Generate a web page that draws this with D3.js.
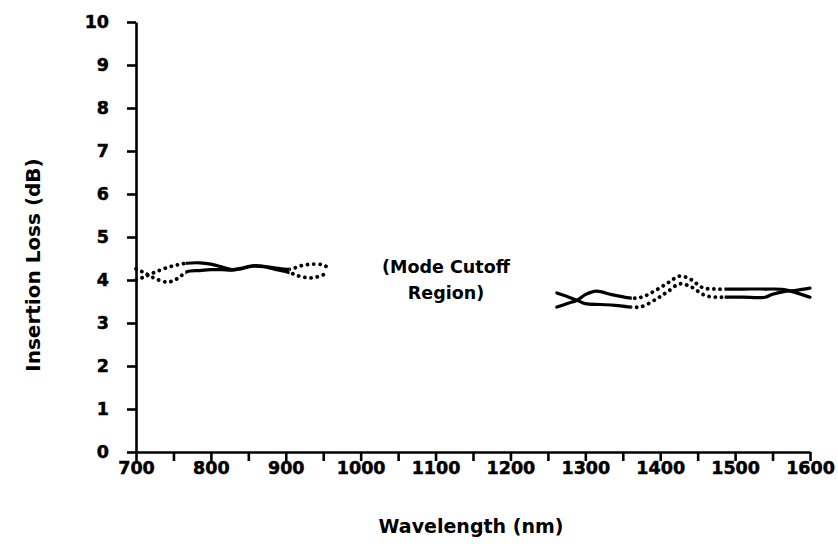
<!DOCTYPE html>
<html>
<head>
<meta charset="utf-8">
<script src="https://cdn.jsdelivr.net/npm/d3@7"></script>
<style>
body { margin: 0; background: #fff; }
text { font-family: "DejaVu Sans", sans-serif; font-weight: bold; fill: #000; }
</style>
</head>
<body>
<svg id="chart" width="838" height="550"></svg>
<script>
// tick values
const xTicks = [700, 750, 800, 850, 900, 950, 1000, 1050, 1100, 1150, 1200, 1250, 1300, 1350, 1400, 1450, 1500, 1550, 1600]
const xLabels = [700, 800, 900, 1000, 1100, 1200, 1300, 1400, 1500, 1600]
const yTicks = [0, 1, 2, 3, 4, 5, 6, 7, 8, 9, 10]

// curves: [wavelength nm, insertion loss dB]
const shortUpper = [[700, 4.00], [712, 4.08], [725, 4.18], [740, 4.28], [755, 4.35], [768, 4.39], [785, 4.40],
  [800, 4.37], [815, 4.30], [828, 4.24], [840, 4.27], [855, 4.33], [870, 4.32], [885, 4.28], [905, 4.25],
  [920, 4.33], [935, 4.37], [950, 4.35], [957, 4.28]]
const shortLower = [[700, 4.26], [712, 4.16], [725, 4.04], [742, 3.95], [755, 4.03], [768, 4.19], [785, 4.22],
  [800, 4.24], [815, 4.24], [828, 4.23], [840, 4.26], [855, 4.32], [870, 4.31], [885, 4.25], [905, 4.17],
  [920, 4.08], [935, 4.05], [950, 4.12], [957, 4.19]]
const longUpper = [[1262, 3.37], [1275, 3.45], [1289, 3.53], [1300, 3.66], [1315, 3.74], [1335, 3.66], [1362, 3.58],
  [1375, 3.60], [1392, 3.74], [1410, 3.93], [1426, 4.09], [1440, 4.02], [1457, 3.82], [1472, 3.79], [1486, 3.79],
  [1510, 3.79], [1540, 3.79], [1565, 3.78], [1582, 3.70], [1600, 3.60]]
const longLower = [[1262, 3.70], [1275, 3.62], [1289, 3.53], [1300, 3.45], [1320, 3.43], [1340, 3.41], [1362, 3.37],
  [1375, 3.38], [1395, 3.56], [1410, 3.73], [1426, 3.91], [1440, 3.85], [1460, 3.64], [1475, 3.60], [1486, 3.60],
  [1510, 3.60], [1540, 3.60], [1550, 3.67], [1565, 3.73], [1582, 3.76], [1600, 3.81]]
const curves = [shortUpper, shortLower, longUpper, longLower]

// wavelength ranges drawn dotted / solid
const dottedBands = [[694, 766], [905, 965], [1362, 1486]]
const solidBands = [[766, 905], [1250, 1362], [1486, 1610]]

const svg = d3.select('#chart')

const x = d3.scaleLinear().domain([700, 1600]).range([136, 810])
const y = d3.scaleLinear().domain([0, 10]).range([452, 22])

// axes
svg.append('g')
  .attr('transform', 'translate(136,0)')
  .call(d3.axisLeft(y).tickValues(yTicks).tickSize(9).tickSizeOuter(0).tickPadding(18))
svg.append('g')
  .attr('transform', 'translate(0,452)')
  .call(d3.axisBottom(x).tickValues(xTicks).tickSize(9).tickSizeOuter(0).tickPadding(1)
    .tickFormat((d) => xLabels.includes(d) ? d : ''))

svg.selectAll('.domain, .tick line')
  .attr('stroke', '#000')
  .attr('stroke-width', 2.6)
svg.selectAll('.tick text')
  .attr('font-size', 17.5)
  .attr('font-family', '"DejaVu Sans", sans-serif')
  .attr('font-weight', 'bold')
  .attr('stroke', '#000')
  .attr('stroke-width', 0.5)

// clip regions for dotted and solid pieces
const defs = svg.append('defs')
function addClip(id, bands) {
  defs.append('clipPath').attr('id', id)
    .selectAll('rect')
    .data(bands)
    .enter()
    .append('rect')
    .attr('x', (b) => x(b[0]))
    .attr('width', (b) => x(b[1]) - x(b[0]))
    .attr('y', 0)
    .attr('height', 550)
}
addClip('clip-dotted', dottedBands)
addClip('clip-solid', solidBands)

const line = d3.line()
  .x((d) => x(d[0]))
  .y((d) => y(d[1]))
  .curve(d3.curveCatmullRom.alpha(0.5))

const plot = svg.append('g')

plot.append('g')
  .attr('clip-path', 'url(#clip-solid)')
  .selectAll('path')
  .data(curves)
  .enter()
  .append('path')
  .attr('d', line)
  .attr('fill', 'none')
  .attr('stroke', '#000')
  .attr('stroke-width', 3.2)
  .attr('stroke-linecap', 'round')

plot.append('g')
  .attr('clip-path', 'url(#clip-dotted)')
  .selectAll('path')
  .data(curves)
  .enter()
  .append('path')
  .attr('d', line)
  .attr('fill', 'none')
  .attr('stroke', '#000')
  .attr('stroke-width', 3.8)
  .attr('stroke-linecap', 'round')
  .attr('stroke-dasharray', '0.1 6.2')

// labels
svg.append('text')
  .attr('transform', 'translate(40,265) rotate(-90)')
  .attr('text-anchor', 'middle')
  .attr('font-size', 20)
  .text('Insertion Loss (dB)')

svg.append('text')
  .attr('x', 471)
  .attr('y', 533)
  .attr('text-anchor', 'middle')
  .attr('font-size', 19)
  .text('Wavelength (nm)')

svg.append('text')
  .attr('x', 446)
  .attr('y', 273)
  .attr('text-anchor', 'middle')
  .attr('font-size', 17.5)
  .text('(Mode Cutoff')

svg.append('text')
  .attr('x', 446)
  .attr('y', 299)
  .attr('text-anchor', 'middle')
  .attr('font-size', 17.5)
  .text('Region)')
</script>
</body>
</html>
